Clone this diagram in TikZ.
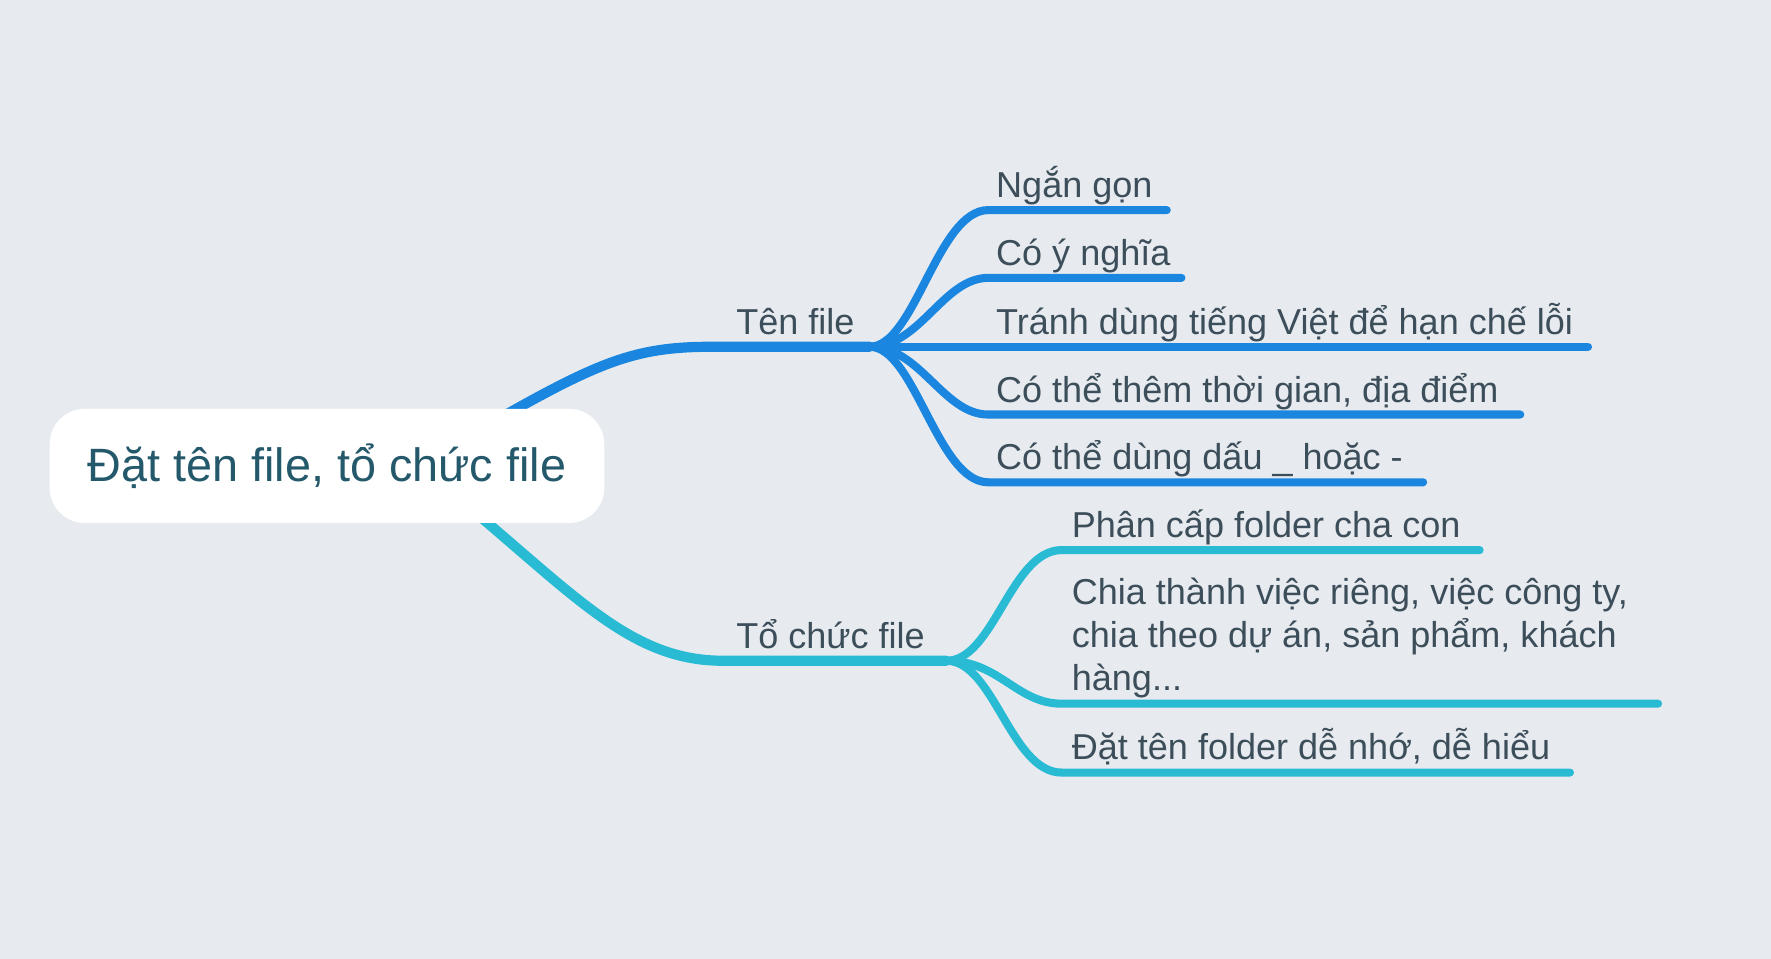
\documentclass[tikz,border=0pt]{standalone}
\usepackage{fontspec}
\setmainfont{Liberation Sans}
\usetikzlibrary{positioning, calc}
\definecolor{bgcol}{HTML}{E7EBEF}
\definecolor{tenblue}{HTML}{1A86DF}
\definecolor{tocyan}{HTML}{29BBD3}
\definecolor{txtcol}{HTML}{3D4E5B}
\definecolor{rootcol}{HTML}{24586B}

\begin{document}
\begin{tikzpicture}[
    x=0.11295mm, y=-0.11295mm,
    line cap=round,
    ]
    \tikzstyle{every node}=[ inner sep = 0pt, outer sep = 0pt ]
    \tikzstyle{leaf}=[ anchor = base west, text = txtcol, font = \fontsize{10.25}{12.2}\selectfont ]
    \tikzstyle{branch}=[ anchor = base west, text = txtcol, font = \fontsize{10.25}{12.2}\selectfont ]
    \tikzstyle{bluelink}=[ draw = tenblue, line width = 2.3pt ]
    \tikzstyle{cyanlink}=[ draw = tocyan, line width = 2.3pt ]
    \fill[bgcol] (0,0) rectangle (1568,849);
    \useasboundingbox (0,0) rectangle (1568,849);
    % hubs and line ends
    \coordinate (R) at (370,412);
    \coordinate (H1) at (770,307);
    \coordinate (H2) at (838,585);
    \coordinate (e1) at (1033,186);
    \coordinate (e2) at (1046,246);
    \coordinate (e3) at (1406,307);
    \coordinate (e4) at (1346,367);
    \coordinate (e5) at (1260,427);
    \coordinate (f1) at (1310,487);
    \coordinate (f2) at (1468,623);
    \coordinate (f3) at (1390,684);
    % main branches
    \draw[bluelink, line width = 2.9pt] (R) .. controls (520,325) and (550,307) .. (630,307) -- (H1);
    \draw[cyanlink, line width = 2.9pt] (R) .. controls (500,515) and (550,585) .. (640,585) -- (H2);
    % Ten file
    \draw[bluelink] (H1) .. controls (810,307) and (830,186) .. (875,186) -- (e1);
    \draw[bluelink] (H1) .. controls (815,307) and (835,246) .. (875,246) -- (e2);
    \draw[bluelink] (H1) -- (e3);
    \draw[bluelink] (H1) .. controls (815,307) and (835,367) .. (875,367) -- (e4);
    \draw[bluelink] (H1) .. controls (810,307) and (830,427) .. (875,427) -- (e5);
    % To chuc file
    \draw[cyanlink] (H2) .. controls (880,585) and (895,487) .. (940,487) -- (f1);
    \draw[cyanlink] (H2) .. controls (885,585) and (900,623) .. (940,623) -- (f2);
    \draw[cyanlink] (H2) .. controls (880,585) and (895,684) .. (940,684) -- (f3);
    % root
    \node[fill=white, rounded corners=10pt, minimum width=491*0.11295mm, minimum height=101*0.11295mm,
          text=rootcol, font=\fontsize{13.3}{15}\selectfont] (root) at (289.5,412.5) {Đặt tên file, tổ chức file};
    \node[branch] (ten) at (652,296) {Tên file};
    \node[branch] (tochuc) at (652,574) {Tổ chức file};
    \node[leaf] (t1) at (882,175) {Ngắn gọn};
    \node[leaf] (t2) at (882,235) {Có ý nghĩa};
    \node[leaf] (t3) at (882,296) {Tránh dùng tiếng Việt để hạn chế lỗi};
    \node[leaf] (t4) at (882,356) {Có thể thêm thời gian, địa điểm};
    \node[leaf] (t5) at (882,416) {Có thể dùng dấu \_ hoặc -};
    \node[leaf] (c1) at (949,476) {Phân cấp folder cha con};
    \node[leaf, align=left, anchor=north west] (c2) at (949,512) {Chia thành việc riêng, việc công ty,\\chia theo dự án, sản phẩm, khách\\hàng...};
    \node[leaf] (c3) at (949,672) {Đặt tên folder dễ nhớ, dễ hiểu};
\end{tikzpicture}
\end{document}
